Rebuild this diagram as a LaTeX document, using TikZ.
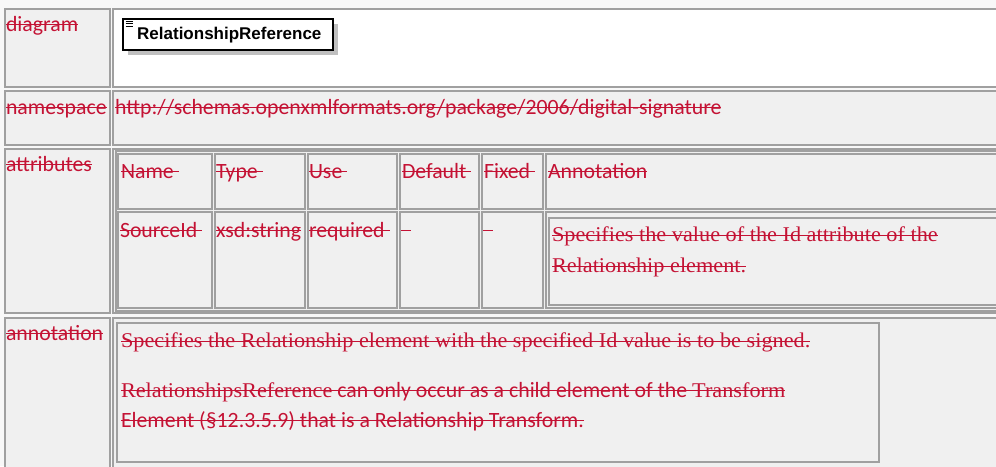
\documentclass[tikz,border=0pt]{standalone}
\usepackage{fontspec}
\setmainfont{Carlito}
\newfontfamily\serifc[FakeStretch=1.06]{Liberation Serif}
\newfontfamily\arialf{Liberation Sans}
\newcommand{\st}[1]{\setbox0=\hbox{#1}\rlap{\vrule height \dimexpr0.6ex+0.65pt\relax depth \dimexpr-0.6ex+0.65pt\relax width \wd0}\box0}
\definecolor{redtxt}{RGB}{196,18,52}
\definecolor{bordergray}{RGB}{160,160,160}
\definecolor{cellgray}{RGB}{240,240,240}
\definecolor{pagebg}{RGB}{248,248,248}
\definecolor{shadowgray}{RGB}{192,192,192}
\newcommand{\sansT}{\fontsize{21.8}{25}\selectfont}
\newcommand{\serT}{\serifc\fontsize{21}{25}\selectfont}
\tikzset{
  cell/.style={draw=bordergray, line width=1.8pt, fill=cellgray},
  thincell/.style={draw=bordergray, line width=1.6pt},
  txt/.style={anchor=base west, inner sep=0pt, outer sep=0pt, text=redtxt, font=\sansT},
  stxt/.style={txt, font=\serT},
  strike/.style={draw=redtxt, line width=1.3pt},
}
\begin{document}
\begin{tikzpicture}[x=1pt,y=-1pt]
\useasboundingbox (0,0) rectangle (996,466);
\fill[pagebg] (0,0) rectangle (996,466);
% outer table rows
\draw[cell] (5,9) rectangle (110,87);
\draw[cell, fill=white] (113,9) rectangle (1010,87);
\draw[cell] (5,91) rectangle (110,145);
\draw[cell] (113,91) rectangle (1010,145);
\draw[cell] (5,149) rectangle (110,313);
\draw[cell] (113,149) rectangle (1010,313);
\draw[cell] (5,318) rectangle (110,480);
\draw[cell] (113,318) rectangle (1010,480);
% inner attributes table
\draw[thincell] (116,151) rectangle (1010,311);
\foreach \xa/\xb in {118/212,215/305,308/397,400/479,482/543,546/1010}{
  \draw[thincell] (\xa,154) rectangle (\xb,209);
  \draw[thincell] (\xa,212) rectangle (\xb,308);
}
\draw[thincell] (549,218) rectangle (1010,305);
% annotation box
\draw[thincell] (117,323) rectangle (879,462);
% diagram element
\fill[shadowgray] (128,24) rectangle (338,55);
\draw[black, line width=1.4pt, fill=white] (123,19) rectangle (333,50);
\foreach \yy in {21.5,23.8,26.1}{\draw[black, line width=0.9pt] (125.5,\yy) -- (132.5,\yy);}
\node[anchor=base west, inner sep=0pt, font=\arialf\bfseries\fontsize{17}{20}\selectfont] (elem) at (137,39.5) {RelationshipReference};
% labels
\node[txt] (lDiagram) at (6,31) {\st{diagram}};
\node[txt] (lNamespace) at (6,114) {\st{namespace}};
\node[txt] (nsURL) at (115,114) {\st{http://schemas.openxmlformats.org/package/2006/digital-signature}};
\node[txt] (lAttributes) at (6,171) {\st{attributes}};
\node[txt] (lAnnotation) at (6,340) {\st{annotation}};
% header row
\node[txt] (hName) at (121,178) {\st{Name\ }};
\node[txt] (hType) at (216,178) {\st{Type\ }};
\node[txt] (hUse) at (309,178) {\st{Use\ }};
\node[txt] (hDefault) at (402,178) {\st{Default\ }};
\node[txt] (hFixed) at (484,178) {\st{Fixed\ }};
\node[txt] (hAnnotation) at (548,178) {\st{Annotation}};
% data row
\node[txt] (dName) at (120,237) {\st{SourceId\ }};
\node[txt] (dType) at (216,237) {\st{xsd:string}};
\node[txt] (dUse) at (309,237) {\st{required\ }};
\coordinate (dDefA) at (401,230.8);
\coordinate (dDefB) at (410.5,230.8);
\coordinate (dFixA) at (483,230.8);
\coordinate (dFixB) at (492.5,230.8);
\draw[strike] (dDefA) -- (dDefB);
\draw[strike] (dFixA) -- (dFixB);
\node[stxt] (dAnn1) at (552,241) {\st{Specifies the value of the Id attribute of the}};
\node[stxt] (dAnn2) at (552,272) {\st{Relationship element.}};
% annotation text
\node[stxt] (ann1) at (121,347) {\st{Specifies the Relationship element with the specified Id value is to be signed.}};
\node[txt] (ann2) at (121,397) {\st{{\serT RelationshipsReference} can only occur as a child element of the {\serT Transform}}};
\node[txt] (ann3) at (121,427) {\st{Element (§12.3.5.9) that is a Relationship Transform.}};
\end{tikzpicture}
\end{document}
